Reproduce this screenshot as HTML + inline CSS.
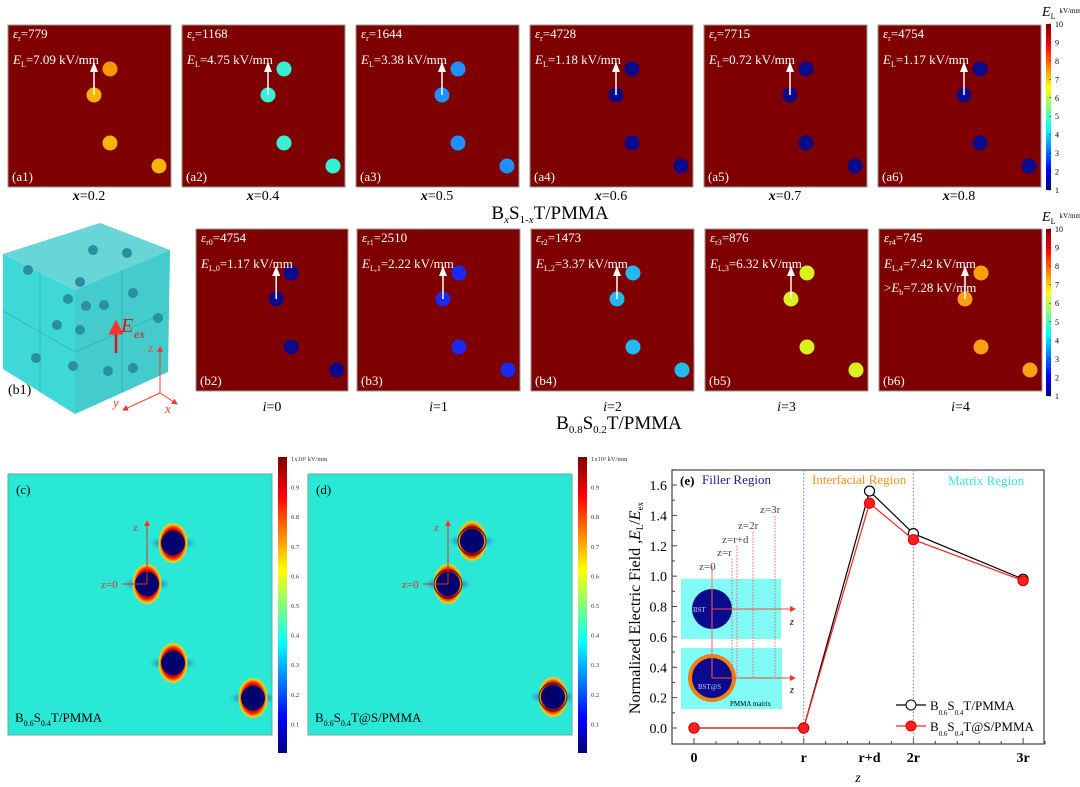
<!DOCTYPE html>
<html><head><meta charset="utf-8">
<style>
html,body{margin:0;padding:0;background:#fff;}
svg{display:block;font-family:"Liberation Serif",serif;}
</style></head>
<body>
<svg id="fig" width="1080" height="787" viewBox="0 0 1080 787" xmlns="http://www.w3.org/2000/svg">
<defs>
<linearGradient id="jet" x1="0" y1="1" x2="0" y2="0">
<stop offset="0" stop-color="#00007f"/><stop offset="0.12" stop-color="#0000ff"/>
<stop offset="0.37" stop-color="#00ffff"/><stop offset="0.62" stop-color="#ffff00"/>
<stop offset="0.87" stop-color="#ff0000"/><stop offset="1" stop-color="#7f0000"/>
</linearGradient>
<radialGradient id="cap" cx="0.5" cy="0.5" r="0.5">
<stop offset="0.55" stop-color="#8b0000"/><stop offset="0.7" stop-color="#ff2000"/>
<stop offset="0.85" stop-color="#ffd000"/><stop offset="1" stop-color="#2ee8d4" stop-opacity="0"/>
</radialGradient>
<radialGradient id="side" cx="0.5" cy="0.5" r="0.5">
<stop offset="0.3" stop-color="#0000c0"/><stop offset="1" stop-color="#2ee8d4" stop-opacity="0"/>
</radialGradient>
<marker id="wh" markerUnits="userSpaceOnUse" markerWidth="10" markerHeight="8" refX="9" refY="4" orient="auto" viewBox="0 0 10 8"><path d="M0,0 L10,4 L0,8 z" fill="#fff"/></marker>
<marker id="rd" markerWidth="6" markerHeight="6" refX="5" refY="3" orient="auto" viewBox="0 0 6 6"><path d="M0,0 L6,3 L0,6 z" fill="#ff3030"/></marker>
</defs>
<g id="top"></g>
<g id="cube">
<polygon points="3,254 100,223 170,250 75,290" fill="#58d2d2" opacity="0.9"/>
<polygon points="3,254 75,290 75,414 3,369" fill="#3fd8d8"/>
<polygon points="75,290 170,250 168,372 75,414" fill="#44cccc"/>
<line x1="40" y1="272" x2="40" y2="392" stroke="#2aa" stroke-width="0.6"/>
<line x1="122" y1="270" x2="122" y2="392" stroke="#2aa" stroke-width="0.6"/>
<line x1="3" y1="311" x2="75" y2="352" stroke="#2aa" stroke-width="0.6"/>
<line x1="75" y1="352" x2="169" y2="311" stroke="#2aa" stroke-width="0.6"/>
<g fill="#2a8fa0">
<circle cx="28" cy="270" r="5"/><circle cx="93" cy="250" r="5"/><circle cx="127" cy="253" r="5"/>
<circle cx="80" cy="282" r="5"/><circle cx="68" cy="299" r="5"/><circle cx="133" cy="293" r="5"/>
<circle cx="86" cy="306" r="5"/><circle cx="104" cy="305" r="5"/><circle cx="57" cy="325" r="5"/>
<circle cx="80" cy="330" r="5"/><circle cx="158" cy="318" r="5"/><circle cx="36" cy="358" r="5"/>
<circle cx="73" cy="366" r="5"/><circle cx="108" cy="371" r="5"/><circle cx="133" cy="368" r="5"/>
</g>
<line x1="116" y1="353" x2="116" y2="322" stroke="#e01010" stroke-width="2.5" marker-end="url(#rd)"/>
<text x="121" y="332" fill="#e01010" font-size="20" font-style="italic">E</text>
<text x="134" y="338" fill="#e01010" font-size="12" font-style="italic">ex</text>
<g stroke="#ff4020" stroke-width="1" fill="none">
<line x1="160" y1="393" x2="160" y2="347" marker-end="url(#rd)"/>
<line x1="160" y1="393" x2="123" y2="410" marker-end="url(#rd)"/>
<line x1="160" y1="393" x2="177" y2="404" marker-end="url(#rd)"/>
</g>
<text x="148" y="352" fill="#ff4020" font-size="12">z</text>
<text x="113" y="407" fill="#ff4020" font-size="13" font-style="italic">y</text>
<text x="165" y="413" fill="#ff4020" font-size="13" font-style="italic">x</text>
<text x="8" y="394" font-size="14">(b1)</text>
</g>
<text x="550" y="219" text-anchor="middle" font-size="19">B<tspan font-size="11" dy="4" font-style="italic">x</tspan><tspan dy="-4">S</tspan><tspan font-size="11" dy="4">1-<tspan font-style="italic">x</tspan></tspan><tspan dy="-4">T/PMMA</tspan></text>
<text x="619" y="429" text-anchor="middle" font-size="19">B<tspan font-size="11" dy="4">0.8</tspan><tspan dy="-4">S</tspan><tspan font-size="11" dy="4">0.2</tspan><tspan dy="-4">T/PMMA</tspan></text>
<g id="fields"></g>
<g id="chart"></g>
</svg>
<script>
const NS="http://www.w3.org/2000/svg";
function mk(p,t,a,txt){const e=document.createElementNS(NS,t);for(const k in a)e.setAttribute(k,a[k]);if(txt!==undefined)e.textContent=txt;p.appendChild(e);return e;}

// ---- top panels ----
const topG=document.getElementById('top');
const rowALabels=["0.2","0.4","0.5","0.6","0.7","0.8"];
const rowAEps=["779","1168","1644","4728","7715","4754"];
const rowAEL=["7.09","4.75","3.38","1.18","0.72","1.17"];
const rowAColors=["#f5b400","#36f0d4","#1e90ff","#0a0a8a","#0a0a8a","#0a0a8a"];
const rowBEps=["4754","2510","1473","876","745"];
const rowBEL=["1.17","2.22","3.37","6.32","7.42"];
const rowBColors=["#0a0a8a","#1a2af0","#22b8f0","#d8f020","#f8a010"];
const circRel=[[102,44],[86,70],[102,118],[151,141]];

function panel(x,y,w,h,eps,epsSub,el,elSub,col,tag,name,extra){
  const g=mk(topG,'g',{});
  
  
  mk(g,'rect',{x:x,y:y,width:w,height:h,fill:'#7f0000',stroke:'#999','stroke-width':1});
  const sx=w/163;
  circRel.forEach((c,i)=>{mk(g,'circle',{cx:x+c[0]*sx,cy:y+c[1],r:7.5,fill:(i==0&&col=="#f5b400")?"#f59800":col});});
  mk(g,'line',{x1:x+86*sx,y1:y+70,x2:x+86*sx,y2:y+38,stroke:'#fff','stroke-width':1.5,'marker-end':'url(#wh)'});
  const t1=mk(g,'text',{x:x+5,y:y+13,fill:'#fff','font-size':13});
  mk(t1,'tspan',{'font-style':'italic'},'ε');mk(t1,'tspan',{'font-size':8,dy:3},epsSub);mk(t1,'tspan',{dy:-3},'='+eps);
  const t2=mk(g,'text',{x:x+5,y:y+39,fill:'#fff','font-size':13});
  mk(t2,'tspan',{'font-style':'italic'},'E');mk(t2,'tspan',{'font-size':8,dy:3},elSub);mk(t2,'tspan',{dy:-3},'='+el+' kV/mm');
  if(extra){const t3=mk(g,'text',{x:x+5,y:y+63,fill:'#fff','font-size':13});mk(t3,'tspan',{},'>');mk(t3,'tspan',{'font-style':'italic'},'E');mk(t3,'tspan',{'font-size':8,dy:3},'b');mk(t3,'tspan',{dy:-3},'='+extra+' kV/mm');}
  mk(g,'text',{x:x+4,y:y+h-6,fill:'#fff','font-size':13},tag);
}
const aX=[8,182,356,530,704,878];
aX.forEach((x,i)=>{
  panel(x,25,163,162,rowAEps[i],'r',rowAEL[i],'L',rowAColors[i],'(a'+(i+1)+')','panel-a'+(i+1));
  const t=mk(topG,'text',{x:x+81,y:200,'text-anchor':'middle','font-size':14});
  
  
  mk(t,'tspan',{'font-style':'italic','font-weight':'bold'},'x');mk(t,'tspan',{},'='+rowALabels[i]);
});
const bX=[[196,152],[357,163],[531,163],[705,163],[879,163]];
bX.forEach((b,i)=>{
  panel(b[0],229,b[1],162,rowBEps[i],'r'+i,rowBEL[i],'L,'+i,rowBColors[i],'(b'+(i+2)+')','panel-b'+(i+2),i==4?'7.28':null);
  const t=mk(topG,'text',{x:b[0]+b[1]/2,y:411,'text-anchor':'middle','font-size':14});
  
  
  mk(t,'tspan',{'font-style':'italic'},'i');mk(t,'tspan',{},'='+i);
});
// colorbars
const cbTicks=[1,2,3,4,5,6,7,8,9,10];
function colorbar(x,y0,y1,ticks,lo,hi,name,title){
  const g=mk(topG,'g',{});
  
  
  mk(g,'rect',{x:x,y:y0,width:5,height:y1-y0,fill:'url(#jet)'});
  ticks.forEach(v=>{const yy=y1-(v-lo)/(hi-lo)*(y1-y0);
    mk(g,'line',{x1:x+3,y1:yy,x2:x+5,y2:yy,stroke:'#000','stroke-width':0.5});
    mk(g,'text',{x:x+9,y:yy+3,'font-size':8},String(v));});
  if(title){const t=mk(g,'text',{x:x-4,y:y0-8,'font-size':14});mk(t,'tspan',{'font-style':'italic'},'E');mk(t,'tspan',{'font-size':8,dy:3},'L');mk(t,'tspan',{'font-size':7,dy:-6,dx:4},'kV/mm');}
}
colorbar(1046,24,190,cbTicks,1,10,'colorbar-top',true);
colorbar(1046,229,396,cbTicks,1,10,'colorbar-bottom',true);

// ---- field maps c, d ----
const fG=document.getElementById('fields');
const fieldTicks=[0.1,0.2,0.3,0.4,0.5,0.6,0.7,0.8,0.9];
const cCircles=[[173,543],[147,584],[173,663],[253,698]];
const dCircles=[[472,541],[448,584],[553,697]];
function field(x,name,tag,circles,shell,lab){
  const g=mk(fG,'g',{});
  
  
  mk(g,'rect',{x:x,y:474,width:264,height:261,fill:'#2ae8d6',stroke:'#6a9','stroke-width':1});
  const cp=mk(g,'clipPath',{id:'cp'+tag});mk(cp,'rect',{x:x,y:474,width:264,height:261});
  const gg=mk(g,'g',{'clip-path':'url(#cp'+tag+')'});
  circles.forEach(c=>{
    mk(gg,'ellipse',{cx:c[0],cy:c[1],rx:26,ry:8,fill:'url(#side)'});
    mk(gg,'ellipse',{cx:c[0],cy:c[1],rx:16,ry:22,fill:'url(#cap)'});
    if(shell)mk(gg,'circle',{cx:c[0],cy:c[1],r:14,fill:'none',stroke:'#222','stroke-width':1});
    mk(gg,'circle',{cx:c[0],cy:c[1],r:12,fill:'#00006e'});
  });
  const c0=circles[1];
  mk(g,'line',{x1:c0[0],y1:c0[1],x2:c0[0],y2:c0[1]-63,stroke:'#e03020','stroke-width':1,'marker-end':'url(#rd)'});
  mk(g,'line',{x1:c0[0],y1:c0[1],x2:c0[0]-25,y2:c0[1],stroke:'#e03020','stroke-width':1});
  mk(g,'text',{x:c0[0]-14,y:c0[1]-53,fill:'#e03020','font-size':11},'z');
  mk(g,'text',{x:c0[0]-46,y:c0[1]+4,fill:'#e03020','font-size':11},'z=0');
  mk(g,'text',{x:x+8,y:494,'font-size':13},'('+tag+')');
  const t=mk(g,'text',{x:x+7,y:722,'font-size':13});
  mk(t,'tspan',{},'B');mk(t,'tspan',{'font-size':8,dy:4},'0.6');mk(t,'tspan',{dy:-4},'S');mk(t,'tspan',{'font-size':8,dy:4},'0.4');mk(t,'tspan',{dy:-4},lab);
  const cb=x+270;
  mk(g,'rect',{x:cb,y:457,width:9,height:296,fill:'url(#jet)'});
  fieldTicks.forEach(v=>{const yy=753-v*(296);mk(g,'text',{x:cb+13,y:yy+3,'font-size':6.5,fill:'#333'},String(v));});
  mk(g,'text',{x:cb+13,y:461,'font-size':6.5,fill:'#333'},'1x10³ kV/mm');
}
field(8,'field-map-c','c',cCircles,false,'T/PMMA');
field(308,'field-map-d','d',dCircles,true,'T@S/PMMA');

// ---- chart e ----
const xCats=["0","r","r+d","2r","3r"];
const xPos=[0,1,1.6,2,3];
const seriesBST=[0,0,1.56,1.28,0.98];
const seriesBSTS=[0,0,1.48,1.24,0.97];
const yTicks=[0.0,0.2,0.4,0.6,0.8,1.0,1.2,1.4,1.6];
const ch=document.getElementById('chart');
const L=672,R=1044,T=470,B=744;
const X=v=>694+v*109.7;
const Y=v=>728-v*(243/1.6);
mk(ch,'rect',{x:L,y:T,width:R-L,height:B-T,fill:'none',stroke:'#444','stroke-width':1.2});
yTicks.forEach(v=>{mk(ch,'line',{x1:L,y1:Y(v),x2:L+5,y2:Y(v),stroke:'#444'});
  mk(ch,'line',{x1:L,y1:Y(v+0.1),x2:L+3,y2:Y(v+0.1),stroke:'#444'});
  const t=mk(ch,'text',{x:L-5,y:Y(v)+5,'text-anchor':'end','font-size':14},v.toFixed(1));
  
  });
for(let v=0;v<=3.25;v+=0.2){mk(ch,'line',{x1:X(v),y1:B,x2:X(v),y2:B-((Math.round(v*5)%5==0)?6:3),stroke:'#444'});}
xCats.forEach((c,i)=>{const t=mk(ch,'text',{x:X(xPos[i]),y:762,'text-anchor':'middle','font-size':14,'font-weight':'bold'},c);
  
  });
const xt=mk(ch,'text',{x:858,y:782,'text-anchor':'middle','font-size':14,'font-style':'italic'},'z');


const yt=mk(ch,'text',{x:0,y:0,'text-anchor':'middle','font-size':16,transform:'translate(640,608) rotate(-90)'});


mk(yt,'tspan',{},'Normalized Electric Field ,');mk(yt,'tspan',{'font-style':'italic'},'E');mk(yt,'tspan',{'font-size':9,dy:3},'L');mk(yt,'tspan',{dy:-3},'/');mk(yt,'tspan',{'font-style':'italic'},'E');mk(yt,'tspan',{'font-size':9,dy:3},'ex');
[1,2].forEach(v=>mk(ch,'line',{x1:X(v),y1:T,x2:X(v),y2:B,stroke:'#7070ff','stroke-dasharray':'1.5,2','stroke-width':1}));
mk(ch,'text',{x:L+8,y:485,'font-size':13,'font-weight':'bold'},'(e)');
mk(ch,'text',{x:702,y:484,'font-size':13,fill:'#1a1a9a'},'Filler Region');
mk(ch,'text',{x:812,y:484,'font-size':13,fill:'#ff9020'},'Interfacial Region');
mk(ch,'text',{x:948,y:485,'font-size':13,fill:'#30e8f0'},'Matrix Region');
// inset
const ins=mk(ch,'g',{});


mk(ins,'rect',{x:681,y:579,width:100,height:60,fill:'#80fbf6'});
mk(ins,'rect',{x:681,y:648,width:101,height:61,fill:'#80fbf6'});
mk(ins,'circle',{cx:712,cy:609,r:20,fill:'#0a0a8a'});
mk(ins,'circle',{cx:712,cy:678,r:24,fill:'#f08010'});
mk(ins,'circle',{cx:712,cy:678,r:20,fill:'#0a0a8a'});
mk(ins,'text',{x:693,y:612,'font-size':7,fill:'#ccf'},'BST');
mk(ins,'text',{x:698,y:689,'font-size':7,fill:'#ccf'},'BST@S');
mk(ins,'text',{x:730,y:706,'font-size':7},'PMMA matrix');
mk(ins,'line',{x1:712,y1:566,x2:712,y2:678,stroke:'#ff6060','stroke-width':1});
mk(ins,'line',{x1:712,y1:609,x2:795,y2:609,stroke:'#ff4040','stroke-width':1,'marker-end':'url(#rd)'});
mk(ins,'line',{x1:712,y1:678,x2:795,y2:678,stroke:'#ff4040','stroke-width':1,'marker-end':'url(#rd)'});
mk(ins,'text',{x:790,y:625,'font-size':10,'font-style':'italic'},'z');
mk(ins,'text',{x:790,y:693,'font-size':10,'font-style':'italic'},'z');
const guides=[[732,556,'z=r'],[737,543,'z=r+d'],[753,529,'z=2r'],[775,513,'z=3r']];
guides.forEach(g=>{mk(ins,'line',{x1:g[0],y1:g[1]+3,x2:g[0],y2:677,stroke:'#ff4040','stroke-dasharray':'1.5,1.5','stroke-width':0.8});
  mk(ins,'text',{x:g[0]-15,y:g[1],'font-size':11,fill:'#444'},g[2]);});
mk(ins,'text',{x:699,y:570,'font-size':11,fill:'#444'},'z=0');
function series(vals,color,filled,name){
  const g=mk(ch,'g',{});
  
  
  mk(g,'polyline',{points:vals.map((v,i)=>X(xPos[i])+','+Y(v)).join(' '),fill:'none',stroke:color,'stroke-width':1.2});
  vals.forEach((v,i)=>{const c=mk(g,'circle',{cx:X(xPos[i]),cy:Y(v),r:5,fill:filled?'#ff2020':'#fff',stroke:filled?'#e00000':'#000','stroke-width':1.2});
    
    });
}
series(seriesBST,'#000',false,'series-bst-pmma');
series(seriesBSTS,'#ff2020',true,'series-bsts-pmma');
// legend
const lg=mk(ch,'g',{});


[[705,'#000',false,'T/PMMA'],[726,'#ff2020',true,'T@S/PMMA']].forEach(l=>{
  mk(lg,'line',{x1:896,y1:l[0],x2:926,y2:l[0],stroke:l[1],'stroke-width':1.2});
  mk(lg,'circle',{cx:911,cy:l[0],r:5,fill:l[2]?'#ff2020':'#fff',stroke:l[2]?'#e00000':'#000'});
  const t=mk(lg,'text',{x:930,y:l[0]+5,'font-size':13});
  mk(t,'tspan',{},'B');mk(t,'tspan',{'font-size':7,dy:5},'0.6');mk(t,'tspan',{dy:-5},'S');mk(t,'tspan',{'font-size':7,dy:5},'0.4');mk(t,'tspan',{dy:-5},l[3]);
});
</script>
</body></html>
